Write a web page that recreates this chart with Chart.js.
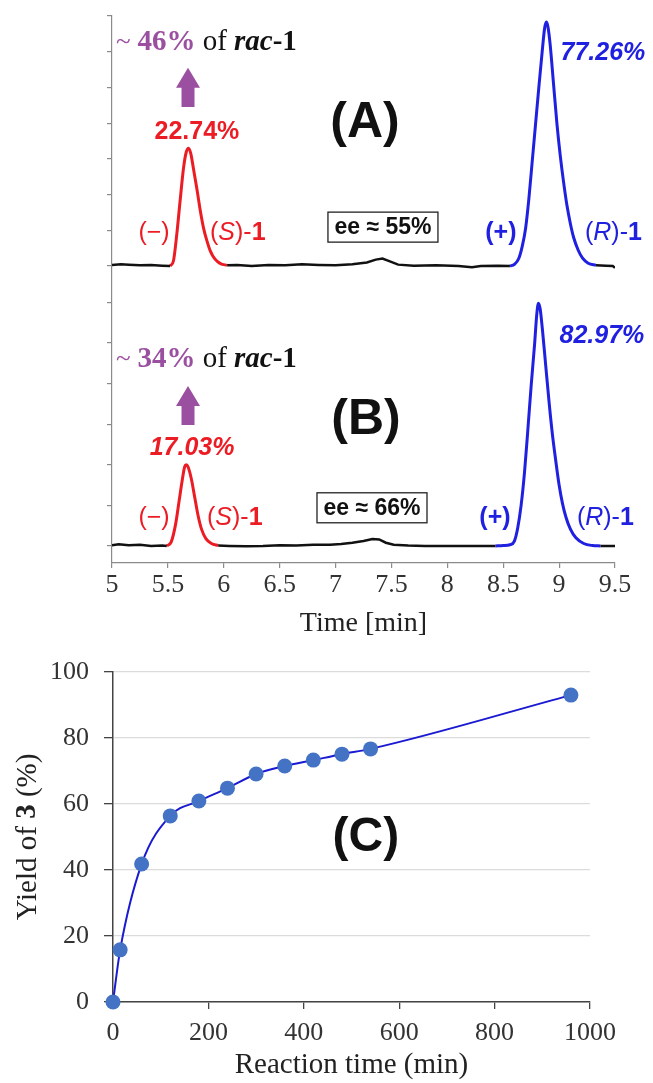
<!DOCTYPE html>
<html>
<head>
<meta charset="utf-8">
<script src="https://cdn.jsdelivr.net/npm/chart.js@4.4.0/dist/chart.umd.min.js"></script>
<style>
  body { margin: 0; background: #fff; }
  #wrap { position: relative; width: 653px; height: 1083px; }
  canvas { position: absolute; left: 0; }
</style>
</head>
<body>
<div id="wrap">
  <canvas id="chartA" width="653" height="290" style="top:0"></canvas>
  <canvas id="chartB" width="653" height="350" style="top:290px"></canvas>
  <canvas id="chartC" width="653" height="443" style="top:640px"></canvas>
</div>
<script>
// chromatograms (A) and (B): [time in min, detector signal in tick units]
const timeTicks = [5, 5.5, 6, 6.5, 7, 7.5, 8, 8.5, 9, 9.5];
const signalTicksA = [0, 1, 2, 3, 4, 5, 6, 7];
const signalTicksB = [0, 1, 2, 3, 4, 5, 6];

const baselineA = [[5.00,0.03],[5.08,0.05],[5.15,0.04],[5.25,0.02],[5.35,0.03],[5.45,0.01],[5.52,0.0],[5.52,null],
  [6.03,0.02],[6.12,0.03],[6.25,0.0],[6.40,0.03],[6.55,0.02],[6.70,0.05],[6.85,0.03],[7.00,0.02],[7.15,0.05],
  [7.28,0.10],[7.36,0.18],[7.42,0.21],[7.48,0.14],[7.56,0.04],[7.70,0.01],[7.90,0.02],[8.10,0.0],[8.22,-0.03],
  [8.30,0.0],[8.45,0.01],[8.56,0.0],[8.56,null],[9.33,0.02],[9.42,0.01],[9.48,0.0],[9.50,-0.05]];
const peakSA = [[5.52,0],[5.55,0.15],[5.58,0.9],[5.61,1.85],[5.64,2.75],[5.665,3.2],[5.685,3.3],[5.705,3.15],
  [5.73,2.7],[5.76,2.15],[5.79,1.55],[5.82,1.05],[5.85,0.7],[5.88,0.42],[5.92,0.2],[5.97,0.07],[6.03,0.02]];
const peakRA = [[8.56,0.0],[8.60,0.05],[8.64,0.22],[8.67,0.55],[8.70,1.05],[8.73,1.9],[8.76,2.95],[8.79,4.0],
  [8.82,5.05],[8.85,6.05],[8.87,6.65],[8.885,6.83],[8.90,6.7],[8.92,6.2],[8.95,5.1],[8.98,4.0],[9.01,3.1],
  [9.04,2.35],[9.07,1.7],[9.10,1.2],[9.13,0.8],[9.17,0.45],[9.21,0.22],[9.26,0.08],[9.33,0.02]];

const baselineB = [[5.00,0.02],[5.06,0.04],[5.15,0.02],[5.25,0.03],[5.35,0.0],[5.45,0.01],[5.49,0.0],[5.49,null],
  [5.95,0.01],[6.05,0.0],[6.20,-0.01],[6.35,0.0],[6.50,0.02],[6.65,0.01],[6.80,0.03],[6.95,0.03],[7.05,0.05],
  [7.15,0.08],[7.25,0.12],[7.33,0.17],[7.39,0.16],[7.45,0.08],[7.52,0.03],[7.65,0.01],[7.80,0.0],[8.00,0.0],
  [8.20,0.0],[8.43,0.0],[8.43,null],[9.37,0.0],[9.50,0.0]];
const peakSB = [[5.49,0],[5.53,0.1],[5.57,0.55],[5.60,1.1],[5.63,1.65],[5.65,1.95],[5.665,2.0],[5.68,1.95],
  [5.71,1.65],[5.74,1.2],[5.77,0.75],[5.80,0.42],[5.84,0.18],[5.89,0.06],[5.95,0.01]];
const peakRB = [[8.43,0.0],[8.50,0.01],[8.56,0.03],[8.60,0.12],[8.63,0.45],[8.66,1.0],[8.69,1.8],[8.72,2.85],
  [8.75,3.95],[8.78,4.95],[8.80,5.7],[8.815,5.98],[8.83,5.85],[8.85,5.35],[8.88,4.45],[8.91,3.55],[8.94,2.75],
  [8.97,2.1],[9.00,1.5],[9.03,1.05],[9.06,0.72],[9.10,0.42],[9.15,0.2],[9.22,0.06],[9.30,0.01],[9.37,0.0]];

// (C) yield vs reaction time
const reactionTime = [0, 15, 60, 120, 180, 240, 300, 360, 420, 480, 540, 960];
const yieldOf3 = [0, 15.8, 41.8, 56.4, 60.9, 64.8, 69.1, 71.5, 73.3, 75.1, 76.7, 93.0];
const timeTicksC = [0, 200, 400, 600, 800, 1000];
const yieldTicks = [0, 20, 40, 60, 80, 100];

const SERIF = '"Liberation Serif", "Times New Roman", serif';
const SANS = '"Liberation Sans", Arial, sans-serif';
const RED = '#ec1c24', BLUE = '#2020e0', PURPLE = '#9b4fa0';

const xy = arr => arr.map(p => ({ x: p[0], y: p[1] }));
const plain = v => String(v);

function rich(ctx, x, y, parts, align) {
  let w = 0;
  parts.forEach(p => { ctx.font = p.f; w += ctx.measureText(p.t).width; });
  let cx = align === 'center' ? x - w / 2 : x;
  parts.forEach(p => {
    ctx.font = p.f; ctx.fillStyle = p.c;
    ctx.fillText(p.t, cx, y);
    cx += ctx.measureText(p.t).width;
  });
}

function upArrow(ctx, x, yTip, yBot) {
  ctx.fillStyle = PURPLE;
  ctx.beginPath();
  ctx.moveTo(x, yTip);
  ctx.lineTo(x + 12, yTip + 20);
  ctx.lineTo(x + 6.5, yTip + 20);
  ctx.lineTo(x + 6.5, yBot);
  ctx.lineTo(x - 6.5, yBot);
  ctx.lineTo(x - 6.5, yTip + 20);
  ctx.lineTo(x - 12, yTip + 20);
  ctx.closePath();
  ctx.fill();
}

// annotation layout for a chromatogram panel, in data coordinates
function chromNotes(n) {
  return {
    id: 'notes' + n.tag,
    afterDatasetsDraw(chart) {
      const ctx = chart.ctx, sx = chart.scales.x, sy = chart.scales.y;
      const X = t => sx.getPixelForValue(t), Y = v => sy.getPixelForValue(v);
      ctx.save();
      ctx.textBaseline = 'alphabetic';
      const f = 29;
      rich(ctx, X(5.036), Y(n.headV), [
        { t: '~ ', f: f - 2 + 'px ' + SERIF, c: PURPLE },
        { t: n.frac, f: 'bold ' + f + 'px ' + SERIF, c: PURPLE },
        { t: ' of ', f: f + 'px ' + SERIF, c: '#111' },
        { t: 'rac', f: 'italic bold ' + f + 'px ' + SERIF, c: '#111' },
        { t: '-1', f: 'bold ' + f + 'px ' + SERIF, c: '#111' }
      ], 'left');
      upArrow(ctx, X(5.68), Y(n.arrowTop), Y(n.arrowBot));
      ctx.textBaseline = 'middle';
      rich(ctx, X(n.sPctT), Y(n.sPctV), [{ t: n.sPct, f: n.sItal + 'bold 25px ' + SANS, c: RED }], 'center');
      rich(ctx, X(n.rPctT), Y(n.rPctV), [{ t: n.rPct, f: 'italic bold 25px ' + SANS, c: BLUE }], 'center');
      rich(ctx, X(5.376), Y(n.lblV), [{ t: '(\u2212)', f: '25px ' + SANS, c: RED }], 'center');
      rich(ctx, X(n.sLblT), Y(n.lblV), [
        { t: '(', f: '25px ' + SANS, c: RED }, { t: 'S', f: 'italic 25px ' + SANS, c: RED },
        { t: ')-', f: '25px ' + SANS, c: RED }, { t: '1', f: 'bold 25px ' + SANS, c: RED }], 'left');
      rich(ctx, X(n.plusT), Y(n.lblV), [{ t: '(+)', f: 'bold 25px ' + SANS, c: BLUE }], 'center');
      rich(ctx, X(n.rLblT), Y(n.lblV), [
        { t: '(', f: '25px ' + SANS, c: BLUE }, { t: 'R', f: 'italic 25px ' + SANS, c: BLUE },
        { t: ')-', f: '25px ' + SANS, c: BLUE }, { t: '1', f: 'bold 25px ' + SANS, c: BLUE }], 'left');
      rich(ctx, X(n.tagT), Y(n.tagV), [{ t: '(' + n.tag + ')', f: 'bold 50px ' + SANS, c: '#111' }], 'center');
      // ee box
      const bx = X(n.eeT), by = Y(n.eeV);
      ctx.fillStyle = '#fff';
      ctx.fillRect(bx - 55, by - 15, 110, 30);
      ctx.strokeStyle = '#222'; ctx.lineWidth = 1.3;
      ctx.strokeRect(bx - 55, by - 15, 110, 30);
      rich(ctx, bx, by + 1, [{ t: 'ee \u2248 ' + n.ee, f: 'bold 23px ' + SANS, c: '#111' }], 'center');
      ctx.restore();
    }
  };
}

function chromDatasets(base, s, r) {
  return [
    { data: xy(base), borderColor: '#111', borderWidth: 2.5, pointRadius: 0, spanGaps: false },
    { data: xy(s), borderColor: RED, borderWidth: 3, pointRadius: 0, cubicInterpolationMode: 'monotone' },
    { data: xy(r), borderColor: BLUE, borderWidth: 3, pointRadius: 0, cubicInterpolationMode: 'monotone' }
  ];
}

const axisGrey = '#8a8a8a';

new Chart(document.getElementById('chartA'), {
  type: 'line',
  data: { datasets: chromDatasets(baselineA, peakSA, peakRA) },
  options: {
    responsive: false, animation: false, events: [],
    layout: { padding: { left: 0, right: 38, top: 16, bottom: 0 } },
    plugins: { legend: { display: false }, tooltip: { enabled: false } },
    scales: {
      x: { type: 'linear', min: 5, max: 9.5, display: false },
      y: {
        type: 'linear', min: -0.67, max: 7,
        afterBuildTicks: s => { s.ticks = signalTicksA.map(v => ({ value: v })); },
        afterFit: s => { s.width = 112; },
        ticks: { display: false },
        grid: { drawOnChartArea: false, tickLength: 5, color: axisGrey, lineWidth: 1.2 },
        border: { color: axisGrey, width: 1.2 }
      }
    }
  },
  plugins: [chromNotes({
    tag: 'A', frac: '46%', headV: 6.05, arrowTop: 5.55, arrowBot: 4.45,
    sPct: '22.74%', sItal: '', sPctT: 5.76, sPctV: 3.75,
    rPct: '77.26%', rPctT: 9.392, rPctV: 5.97,
    lblV: 0.92, sLblT: 5.877, plusT: 8.479, rLblT: 9.231,
    tagT: 7.263, tagV: 4.0, eeT: 7.424, eeV: 1.09, ee: '55%'
  })]
});

new Chart(document.getElementById('chartB'), {
  type: 'line',
  data: { datasets: chromDatasets(baselineB, peakSB, peakRB) },
  options: {
    responsive: false, animation: false, events: [],
    layout: { padding: { left: 0, right: 38, top: 0, bottom: 0 } },
    plugins: { legend: { display: false }, tooltip: { enabled: false } },
    scales: {
      x: {
        type: 'linear', min: 5, max: 9.5,
        afterBuildTicks: s => { s.ticks = timeTicks.map(v => ({ value: v })); },
        afterFit: s => { s.height = 77; },
        ticks: { font: { family: SERIF, size: 26 }, color: '#333', padding: 2, maxRotation: 0, autoSkip: false, callback: plain },
        grid: { drawOnChartArea: false, tickLength: 5, color: axisGrey, lineWidth: 1.2 },
        border: { color: axisGrey, width: 1.2 },
        title: { display: true, text: 'Time [min]', font: { family: SERIF, size: 28 }, color: '#222', padding: { top: 0, bottom: 0 } }
      },
      y: {
        type: 'linear', min: -0.42, max: 6.305,
        afterBuildTicks: s => { s.ticks = signalTicksB.map(v => ({ value: v })); },
        afterFit: s => { s.width = 112; },
        ticks: { display: false },
        grid: { drawOnChartArea: false, tickLength: 5, color: axisGrey, lineWidth: 1.2 },
        border: { color: axisGrey, width: 1.2 }
      }
    }
  },
  plugins: [chromNotes({
    tag: 'B', frac: '34%', headV: 4.41, arrowTop: 3.94, arrowBot: 2.98,
    sPct: '17.03%', sItal: 'italic ', sPctT: 5.716, sPctV: 2.41,
    rPct: '82.97%', rPctT: 9.383, rPctV: 5.17,
    lblV: 0.69, sLblT: 5.85, plusT: 8.426, rLblT: 9.159,
    tagT: 7.272, tagV: 3.1, eeT: 7.326, eeV: 0.94, ee: '66%'
  })]
});

const yTitleC = {
  id: 'yTitleC',
  afterDraw(chart) {
    const ctx = chart.ctx;
    ctx.save();
    ctx.translate(28, 197);
    ctx.rotate(-Math.PI / 2);
    ctx.textBaseline = 'middle';
    rich(ctx, 0, 0, [
      { t: 'Yield of ', f: '29px ' + SERIF, c: '#222' },
      { t: '3', f: 'bold 29px ' + SERIF, c: '#222' },
      { t: ' (%)', f: '29px ' + SERIF, c: '#222' }], 'center');
    ctx.restore();
    const sx = chart.scales.x, sy = chart.scales.y;
    ctx.save();
    ctx.textBaseline = 'middle';
    rich(ctx, sx.getPixelForValue(530), sy.getPixelForValue(49.7), [{ t: '(C)', f: 'bold 48px ' + SANS, c: '#111' }], 'center');
    ctx.restore();
  }
};

new Chart(document.getElementById('chartC'), {
  type: 'line',
  data: {
    datasets: [{
      data: reactionTime.map((t, i) => ({ x: t, y: yieldOf3[i] })),
      borderColor: '#1a1ad2', borderWidth: 2, cubicInterpolationMode: 'monotone',
      pointRadius: 7.5, pointBackgroundColor: '#4472c4', pointBorderColor: '#4472c4', pointBorderWidth: 0,
      clip: false
    }]
  },
  options: {
    responsive: false, animation: false, events: [],
    layout: { padding: { left: 0, right: 63, top: 32, bottom: 0 } },
    plugins: { legend: { display: false }, tooltip: { enabled: false } },
    scales: {
      x: {
        type: 'linear', min: 0, max: 1000,
        afterBuildTicks: s => { s.ticks = timeTicksC.map(v => ({ value: v })); },
        afterFit: s => { s.height = 81; },
        ticks: { font: { family: SERIF, size: 26 }, color: '#333', padding: 9, maxRotation: 0, callback: plain },
        grid: { drawOnChartArea: false, tickLength: 7, tickColor: '#444', lineWidth: 1.3 },
        border: { color: '#444', width: 1.5 },
        title: { display: true, text: 'Reaction time (min)', font: { family: SERIF, size: 29 }, color: '#222', padding: { top: 0, bottom: 0 } }
      },
      y: {
        type: 'linear', min: 0, max: 100,
        afterBuildTicks: s => { s.ticks = yieldTicks.map(v => ({ value: v })); },
        afterFit: s => { s.width = 113; },
        ticks: { font: { family: SERIF, size: 26 }, color: '#333', padding: 15, callback: plain },
        grid: { color: '#dcdcdc', tickColor: '#444', tickLength: 9, lineWidth: 1.3 },
        border: { color: '#444', width: 1.5 }
      }
    }
  },
  plugins: [yTitleC]
});
</script>
</body>
</html>
